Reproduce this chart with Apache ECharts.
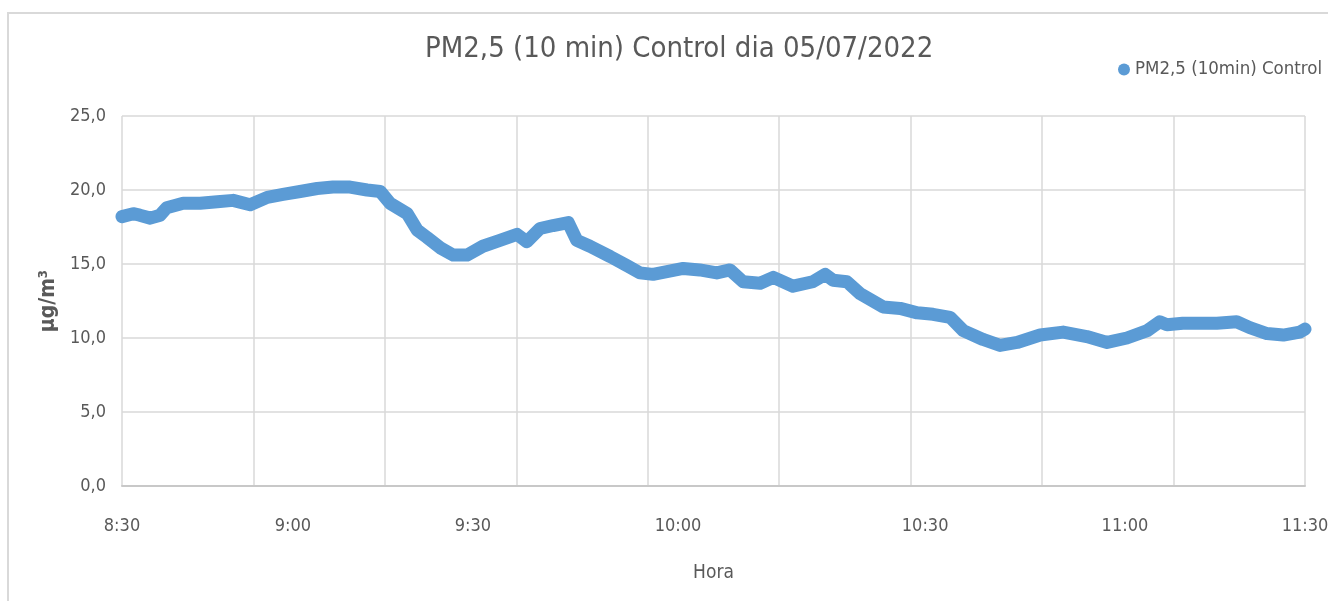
<!DOCTYPE html>
<html>
<head>
<meta charset="utf-8">
<script src="https://cdn.jsdelivr.net/npm/echarts@6/dist/echarts.min.js"></script>
<style>
  html, body { margin: 0; padding: 0; background: #fff; }
  #chart1 { width: 1328px; height: 601px; }
</style>
</head>
<body>
<div id="chart1"></div>
<script>
// minutes after 8:30 and PM2,5 values (ug/m3)
const minutes = [0, 1.7, 2.7, 4.3, 5.8, 6.8, 9.3, 11.9, 14.5, 16.9, 19.5, 22.1, 24.5, 27.1, 29.7,
  32.1, 34.7, 37.3, 39.3, 40.8, 43.4, 44.9, 46.4, 48.4, 50.4, 52.5, 54.9, 57.5, 60.1, 61.6,
  63.6, 65.6, 67.9, 69.2, 71.2, 74.3, 76.8, 78.8, 80.8, 85.4, 87.9, 90.5, 92.5, 94.5, 97.1,
  99.1, 102.1, 105.1, 107.0, 108.2, 110.3, 112.3, 115.8, 118.4, 121.0, 123.4, 126.0, 128.0,
  131.0, 133.6, 136.2, 139.7, 143.2, 146.8, 149.9, 152.9, 156.0, 157.9, 159.0, 161.4, 166.6,
  169.6, 171.6, 174.2, 176.7, 179.2, 180];
const pm25 = [18.2, 18.4, 18.3, 18.1, 18.3, 18.8, 19.1, 19.1, 19.2, 19.3, 19.0, 19.5, 19.7, 19.9, 20.1,
  20.2, 20.2, 20.0, 19.9, 19.1, 18.4, 17.3, 16.8, 16.1, 15.6, 15.6, 16.2, 16.6, 17.0, 16.5,
  17.4, 17.6, 17.8, 16.6, 16.2, 15.5, 14.9, 14.4, 14.3, 14.7, 14.6, 14.4, 14.6, 13.8, 13.7,
  14.1, 13.5, 13.8, 14.3, 13.9, 13.8, 13.0, 12.1, 12.0, 11.7, 11.6, 11.4, 10.5,
  9.9, 9.5, 9.7, 10.2, 10.4, 10.1, 9.7, 10.0, 10.5, 11.1, 10.9, 11.0, 11.0,
  11.1, 10.7, 10.3, 10.2, 10.4, 10.6];

// x axis labels, and where they sit on the axis (minutes after 8:30)
const tickLabels = ['8:30', '9:00', '9:30', '10:00', '10:30', '11:00', '11:30'];
const tickMinutes = [0, 26, 53.4, 84.6, 122.2, 152.6, 180];

const fontFam = "'Liberation Sans Narrow', 'DejaVu Sans Condensed', sans-serif";
const chart1 = echarts.init(document.getElementById('chart1'));

const option = {
  animation: false,
  title: {
    text: 'PM2,5 (10 min) Control dia 05/07/2022',
    left: 420,
    top: 30,
    textStyle: { color: '#595959', fontSize: 29, fontWeight: 'normal', fontFamily: fontFam }
  },
  legend: {
    left: 1113,
    top: 55,
    icon: 'circle',
    itemWidth: 12,
    itemHeight: 12,
    textStyle: { color: '#595959', fontSize: 18.5, fontFamily: fontFam },
    data: ['PM2,5 (10min) Control']
  },
  graphic: [{
    type: 'rect',
    shape: { x: 8, y: 13, width: 1340, height: 620 },
    style: { fill: 'none', stroke: '#d9d9d9', lineWidth: 2 },
    silent: true
  }],
  grid: { left: 122, right: 23, top: 116, bottom: 115, outerBoundsMode: 'none' },
  xAxis: {
    type: 'value',
    min: 0,
    max: 180,
    interval: 20,
    name: 'Hora',
    nameLocation: 'middle',
    nameGap: 78,
    nameTextStyle: { color: '#595959', fontSize: 19, fontFamily: fontFam },
    axisLine: { lineStyle: { color: '#c8c8c8', width: 2 } },
    axisTick: { show: false },
    axisLabel: {
      customValues: tickMinutes,
      color: '#595959',
      fontSize: 18,
      fontFamily: fontFam,
      margin: 31,
      formatter: function (v) {
        let best = 0;
        tickMinutes.forEach((t, i) => { if (Math.abs(t - v) < Math.abs(tickMinutes[best] - v)) best = i; });
        return tickLabels[best];
      }
    },
    splitLine: { show: true, lineStyle: { color: '#d9d9d9', width: 1.5 } }
  },
  yAxis: {
    type: 'value',
    min: 0,
    max: 25,
    interval: 5,
    name: 'µg/m³',
    nameLocation: 'middle',
    nameGap: 62,
    nameTextStyle: { color: '#595959', fontSize: 21, fontWeight: 'bold', fontFamily: fontFam },
    axisLine: { show: false },
    axisTick: { show: false },
    axisLabel: {
      color: '#595959',
      fontSize: 18,
      fontFamily: fontFam,
      margin: 16,
      formatter: v => v.toFixed(1).replace('.', ',')
    },
    splitLine: { lineStyle: { color: '#d9d9d9', width: 1.5 } }
  },
  series: [{
    name: 'PM2,5 (10min) Control',
    type: 'line',
    data: minutes.map((m, i) => [m, pm25[i]]),
    showSymbol: false,
    itemStyle: { color: '#5b9bd5' },
    lineStyle: { color: '#5b9bd5', width: 13, cap: 'round', join: 'round' }
  }]
};

chart1.setOption(option);
</script>
</body>
</html>
